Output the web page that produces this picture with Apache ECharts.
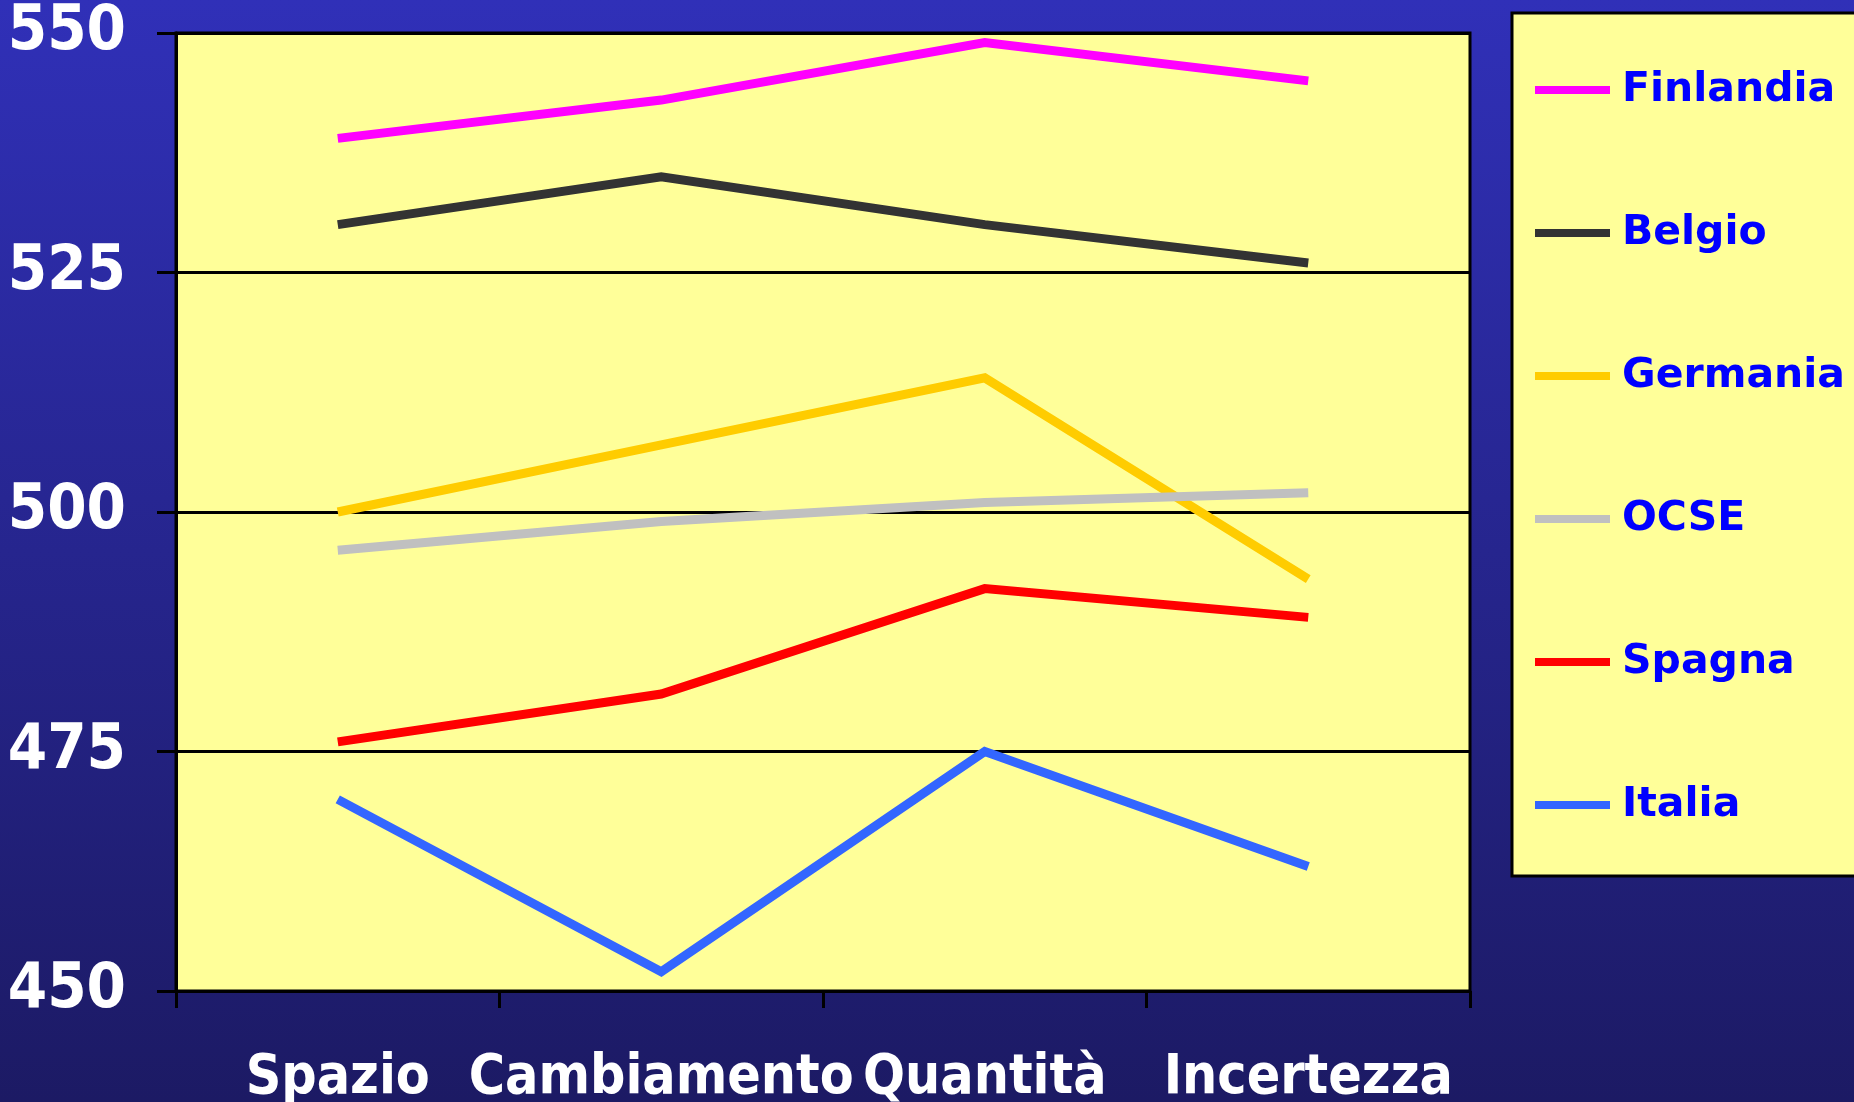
<!DOCTYPE html>
<html>
<head>
<meta charset="utf-8">
<title>Punteggi per area</title>
<script src="https://cdn.jsdelivr.net/npm/echarts@6/dist/echarts.min.js"></script>
<style>
  html, body { margin: 0; padding: 0; }
  #chart { width: 1854px; height: 1102px; }
</style>
</head>
<body>
<div id="chart"></div>
<script>
// Categories along the x axis
const categories = ['Spazio', 'Cambiamento', 'Quantità', 'Incertezza'];

// Scores per country
const finlandia = [539, 543, 549, 545];
const belgio    = [530, 535, 530, 526];
const germania  = [500, 507, 514, 493];
const ocse      = [496, 499, 501, 502];
const spagna    = [476, 481, 492, 489];
const italia    = [470, 452, 475, 463];

// Value axis range
const yMin = 450;
const yMax = 550;
const yStep = 25;

const seriesDefs = [
  { name: 'Finlandia', data: finlandia, color: '#FF00FF' },
  { name: 'Belgio',    data: belgio,    color: '#333333' },
  { name: 'Germania',  data: germania,  color: '#FFCC00' },
  { name: 'OCSE',      data: ocse,      color: '#C0C0C0' },
  { name: 'Spagna',    data: spagna,    color: '#FF0000' },
  { name: 'Italia',    data: italia,    color: '#3366FF' }
];

const chart = echarts.init(document.getElementById('chart'), null, { renderer: 'canvas' });

const condensed = '"DejaVu Sans Condensed", "DejaVu Sans", sans-serif';

chart.setOption({
  animation: false,
  backgroundColor: {
    type: 'linear', x: 0, y: 0, x2: 0, y2: 1,
    colorStops: [
      { offset: 0, color: '#3030B8' },
      { offset: 1, color: '#1C1A64' }
    ]
  },
  graphic: [{
    type: 'rect',
    z: 0,
    shape: { x: 1512, y: 13, width: 400, height: 863 },
    style: { fill: '#FFFF99', stroke: '#000000', lineWidth: 3 }
  }],
  grid: {
    left: 176, right: 384, top: 33, bottom: 111,
    outerBoundsMode: 'none',
    containLabel: false,
    show: true,
    backgroundColor: '#FFFF99',
    borderColor: '#000000',
    borderWidth: 3
  },
  legend: {
    orient: 'vertical',
    left: 1535,
    top: 65,
    padding: 0,
    z: 10,
    itemWidth: 75,
    itemHeight: 8,
    itemGap: 93,
    icon: 'rect',
    selectedMode: false,
    textStyle: {
      color: '#0000FF',
      fontFamily: '"DejaVu Sans", sans-serif',
      fontWeight: 'bold',
      fontSize: 41,
      lineHeight: 50,
      padding: [0, 0, 0, 7]
    },
    data: seriesDefs.map(s => s.name)
  },
  xAxis: {
    type: 'category',
    data: categories,
    boundaryGap: true,
    axisLine: { lineStyle: { color: '#000000', width: 3 } },
    axisTick: { show: true, length: 17, lineStyle: { color: '#000000', width: 3 } },
    axisLabel: {
      interval: 0,
      hideOverlap: false,
      color: '#FFFFFF',
      fontFamily: condensed,
      fontWeight: 'bold',
      fontSize: 55,
      margin: 60
    },
    splitLine: { show: false }
  },
  yAxis: {
    type: 'value',
    min: yMin,
    max: yMax,
    interval: yStep,
    axisLine: { show: true, lineStyle: { color: '#000000', width: 3 } },
    axisTick: { show: true, length: 19, lineStyle: { color: '#000000', width: 3 } },
    axisLabel: {
      color: '#FFFFFF',
      fontFamily: condensed,
      fontWeight: 'bold',
      fontSize: 63,
      margin: 50,
      padding: [10, 0, 0, 0]
    },
    splitLine: { show: true, lineStyle: { color: '#000000', width: 3 } }
  },
  series: seriesDefs.map(s => ({
    name: s.name,
    type: 'line',
    data: s.data,
    color: s.color,
    showSymbol: false,
    symbol: 'none',
    lineStyle: { color: s.color, width: 9, join: 'miter', cap: 'butt' },
    emphasis: { disabled: true }
  }))
});
</script>
</body>
</html>
